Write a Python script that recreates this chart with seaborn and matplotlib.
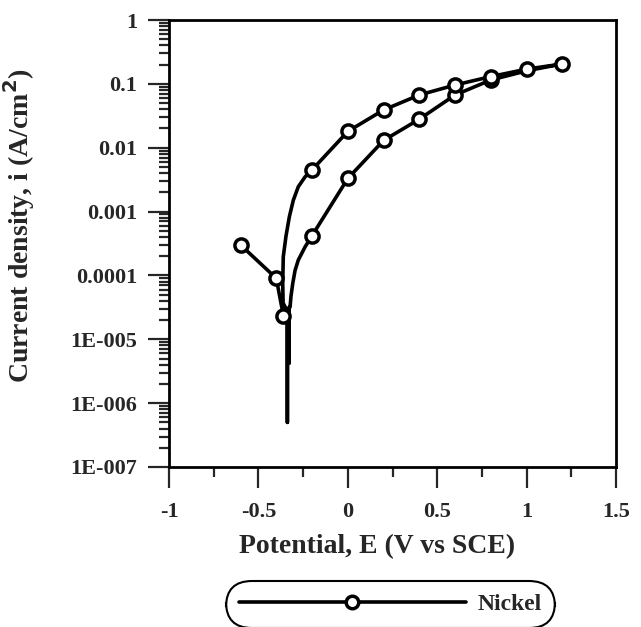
import matplotlib
matplotlib.use("Agg")
import matplotlib.pyplot as plt
import matplotlib.ticker as mticker
from matplotlib.lines import Line2D
import seaborn as sns

# traced polarisation curve: potential (V vs SCE) and current density (A/cm2)
curve_e = [-0.6, -0.4, -0.36, -0.338, -0.338, -0.338, -0.328, -0.328, -0.323,
           -0.318, -0.308, -0.295, -0.277, -0.239, -0.2, 0.0, 0.2, 0.4, 0.6, 0.8, 1.0, 1.2,
           1.0, 0.8, 0.6, 0.4, 0.2, 0.0, -0.2, -0.239, -0.277, -0.305, -0.327, -0.346,
           -0.361, -0.364, -0.362, -0.345]
curve_i = [3e-4, 9e-5, 2.3e-5, 3e-5, 5e-7, 3e-5, 4.2e-6, 3.2e-5, 3.2e-5,
           4.7e-5, 7.5e-5, 1.2e-4, 1.74e-4, 2.8e-4, 4.2e-4, 3.3e-3, 0.013, 0.028, 0.067, 0.115, 0.16, 0.205,
           0.17, 0.13, 0.096, 0.067, 0.039, 0.018, 4.5e-3, 3.5e-3, 2.45e-3, 1.5e-3, 8.3e-4, 4.1e-4,
           1.96e-4, 7.5e-5, 3.7e-5, 3e-5]

# sampled points shown with circle markers
marker_e = [-0.6, -0.4, -0.36,
            -0.2, 0.0, 0.2, 0.4, 0.6, 0.8,
            -0.2, 0.0, 0.2, 0.4, 0.6, 0.8, 1.0, 1.2]
marker_i = [3e-4, 9e-5, 2.3e-5,
            4.2e-4, 3.3e-3, 0.013, 0.028, 0.067, 0.115,
            4.5e-3, 0.018, 0.039, 0.067, 0.096, 0.13, 0.17, 0.205]

y_ticks = [1e-7, 1e-6, 1e-5, 1e-4, 1e-3, 1e-2, 1e-1, 1]
y_labels = ['1E-007', '1E-006', '1E-005', '0.0001', '0.001', '0.01', '0.1', '1']
x_ticks = [-1, -0.5, 0, 0.5, 1, 1.5]
x_labels = ['-1', '-0.5', '0', '0.5', '1', '1.5']

sns.set_style("ticks")
plt.rcParams['font.family'] = ['Liberation Serif', 'DejaVu Serif']
plt.rcParams['font.weight'] = 'bold'

fig = plt.figure(figsize=(6.41, 6.27), dpi=100)
ax = fig.add_axes([0.2637, 0.2552, 0.6973, 0.7129])

sns.lineplot(x=curve_e, y=curve_i, sort=False, estimator=None, color='black',
             linewidth=2.6, ax=ax, legend=False)
sns.scatterplot(x=marker_e, y=marker_i, marker='o', s=90, facecolor='white',
                edgecolor='black', linewidth=2.5, ax=ax, zorder=3, legend=False)

ax.set_yscale('log')
ax.set_xlim(-1, 1.5)
ax.set_ylim(1e-7, 1)
ax.set_xticks(x_ticks)
ax.set_xticklabels(x_labels)
ax.set_yticks(y_ticks)
ax.set_yticklabels(y_labels)
ax.xaxis.set_minor_locator(mticker.MultipleLocator(0.25))
ax.yaxis.set_minor_locator(mticker.LogLocator(base=10, subs=range(2, 10), numticks=20))
ax.yaxis.set_minor_formatter(mticker.NullFormatter())

ax.tick_params(which='major', direction='out', length=15, width=1.6, labelsize=16, pad=8)
ax.tick_params(which='minor', direction='out', length=7, width=1.6)
ax.tick_params(axis='x', which='major', pad=10)
for s in ax.spines.values():
    s.set_linewidth(2)
    s.set_color('black')

ax.set_xlabel('Potential, E (V vs SCE)', fontsize=20, fontweight='bold')
ax.set_ylabel('Current density, i (A/cm$^\\mathbf{2}$)', fontsize=20, fontweight='bold')
ax.xaxis.set_label_coords(0.465, -0.15)
ax.yaxis.set_label_coords(-0.295, 0.54)

handle = Line2D([], [], color='black', linewidth=2.6, marker='o', markersize=9,
                markerfacecolor='white', markeredgecolor='black', markeredgewidth=2.5)
leg = fig.legend([handle], ['Nickel'], loc='center', bbox_to_anchor=(0.609, 0.036),
                 handlelength=9.6, fontsize=17, frameon=True, fancybox=True,
                 borderpad=0.35, handletextpad=0.5)
leg.get_frame().set_edgecolor('black')
leg.get_frame().set_linewidth(1.5)
leg.get_frame().set_boxstyle('round,pad=0.2,rounding_size=1.1')
leg.get_frame().set_alpha(1)

fig.savefig('out.png', dpi=100)
